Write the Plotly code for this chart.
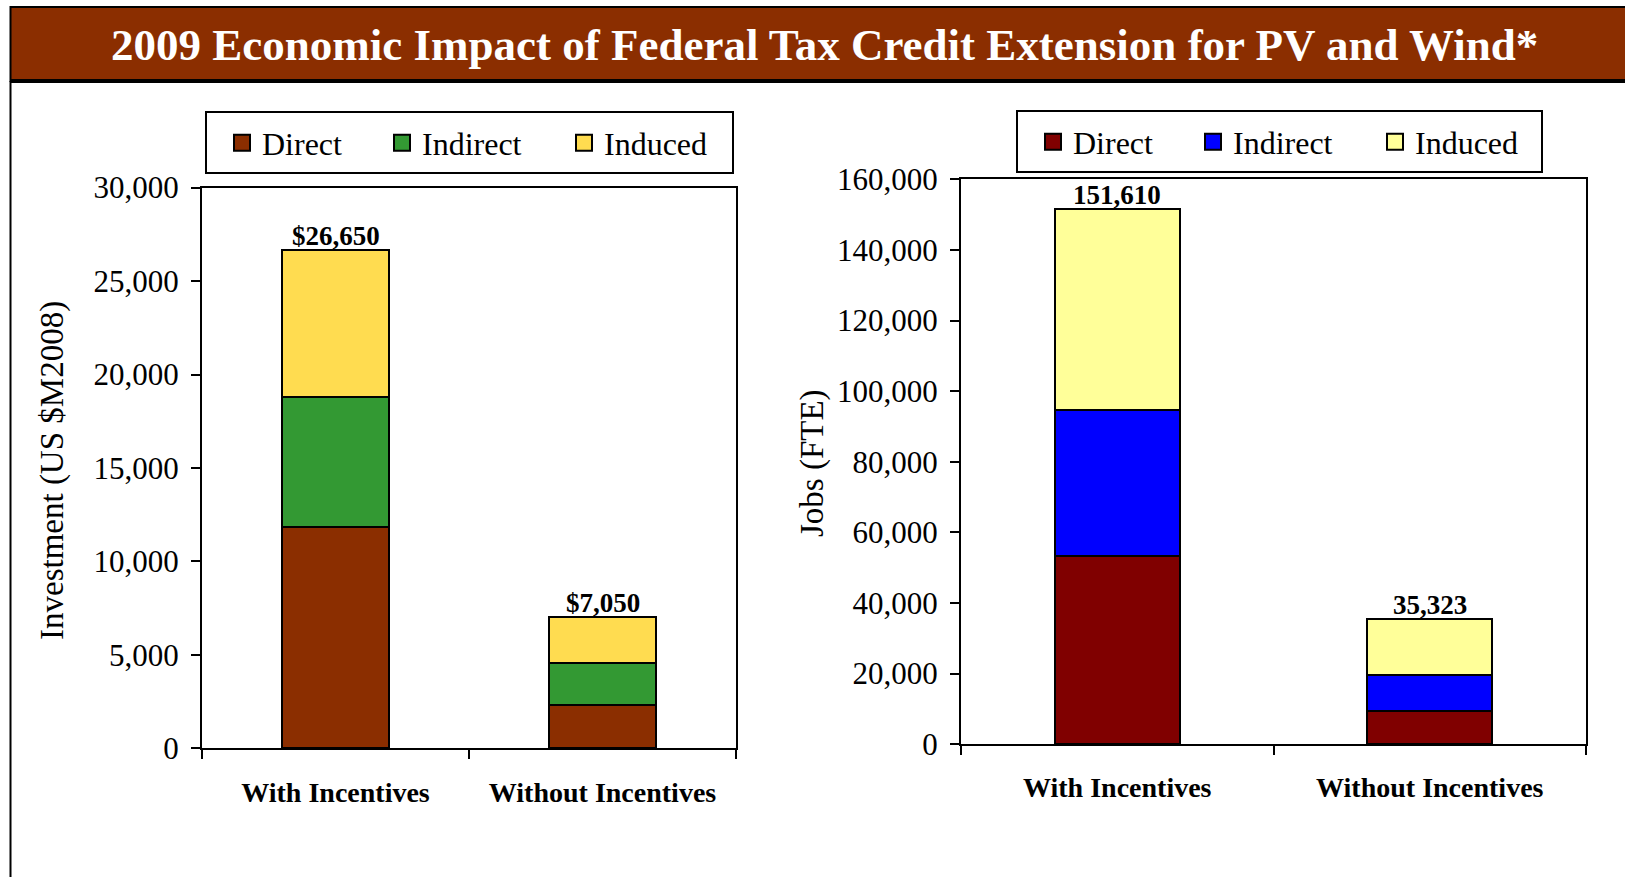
import plotly.graph_objects as go

W, H = 1625, 877

categories = ["With Incentives", "Without Incentives"]
series_names = ["Direct", "Indirect", "Induced"]

# Left chart: Investment (US $M2008)
invest_direct = [11850, 2300]
invest_indirect = [6950, 2250]
invest_induced = [7850, 2500]
invest_colors = ["#8B2E00", "#339933", "#FFDC50"]

# Right chart: Jobs (FTE)
jobs_direct = [53400, 9400]
jobs_indirect = [41250, 10150]
jobs_induced = [56960, 15773]
jobs_colors = ["#800000", "#0000FF", "#FFFF99"]

title_text = "2009 Economic Impact of Federal Tax Credit Extension for PV and Wind*"
left_ytitle = "Investment (US $M2008)"
right_ytitle = "Jobs (FTE)"

FONT = "Liberation Serif"
legend_widths = [115, 137, 125]


def px(x):
    return x / W


def py(y):
    return 1 - y / H


fig = go.Figure()

left_series = [invest_direct, invest_indirect, invest_induced]
right_series = [jobs_direct, jobs_indirect, jobs_induced]

for name, vals, col, lw in zip(series_names, left_series, invest_colors, legend_widths):
    fig.add_trace(go.Bar(x=categories, y=vals, name=name, marker=dict(color=col, line=dict(color="black", width=2)),
                         xaxis="x", yaxis="y", showlegend=False))
    fig.add_trace(go.Scatter(x=[None], y=[None], mode="markers", name=name, legendwidth=lw,
                             marker=dict(symbol="square", size=16, color=col, line=dict(color="black", width=2)),
                             xaxis="x", yaxis="y", legend="legend"))

for name, vals, col, lw in zip(series_names, right_series, jobs_colors, legend_widths):
    fig.add_trace(go.Bar(x=categories, y=vals, name=name, marker=dict(color=col, line=dict(color="black", width=2)),
                         xaxis="x2", yaxis="y2", showlegend=False))
    fig.add_trace(go.Scatter(x=[None], y=[None], mode="markers", name=name, legendwidth=lw,
                             marker=dict(symbol="square", size=16, color=col, line=dict(color="black", width=2)),
                             xaxis="x2", yaxis="y2", legend="legend2"))

left_totals = [sum(v) for v in zip(*left_series)]
right_totals = [sum(v) for v in zip(*right_series)]

annotations = []
for c, t in zip(categories, left_totals):
    annotations.append(dict(x=c, y=t, xref="x", yref="y", text=f"${t:,}", showarrow=False, yanchor="bottom",
                            yshift=-3, font=dict(family=FONT, size=27, color="black", weight="bold")))
for c, t in zip(categories, right_totals):
    annotations.append(dict(x=c, y=t, xref="x2", yref="y2", text=f"{t:,}", showarrow=False, yanchor="bottom",
                            yshift=-3, font=dict(family=FONT, size=27, color="black", weight="bold")))

# Title
annotations.append(dict(x=px(824), y=py(45), xref="paper", yref="paper", text=title_text, showarrow=False,
                        xanchor="center", yanchor="middle",
                        font=dict(family=FONT, size=45, color="white", weight="bold")))
# Axis titles
annotations.append(dict(x=px(52), y=py(471), xref="paper", yref="paper", text=left_ytitle, showarrow=False,
                        textangle=-90, xanchor="center", yanchor="middle",
                        font=dict(family=FONT, size=33, color="black")))
annotations.append(dict(x=px(812), y=py(463), xref="paper", yref="paper", text=right_ytitle, showarrow=False,
                        textangle=-90, xanchor="center", yanchor="middle",
                        font=dict(family=FONT, size=33, color="black")))

shapes = [
    dict(type="rect", xref="paper", yref="paper", x0=px(10.5), x1=px(1640), y0=py(7), y1=py(81),
         fillcolor="#8B2E00", line=dict(color="black", width=2), layer="below"),
    dict(type="line", xref="paper", yref="paper", x0=px(10.5), x1=px(1640), y0=py(81), y1=py(81),
         line=dict(color="black", width=4)),
    dict(type="line", xref="paper", yref="paper", x0=px(10.5), x1=px(10.5), y0=py(81), y1=py(890),
         line=dict(color="black", width=2)),
    # legend frames
    dict(type="rect", xref="paper", yref="paper", x0=px(206), x1=px(733), y0=py(112), y1=py(173),
         fillcolor="rgba(0,0,0,0)", line=dict(color="black", width=2)),
    dict(type="rect", xref="paper", yref="paper", x0=px(1017), x1=px(1542), y0=py(111), y1=py(172),
         fillcolor="rgba(0,0,0,0)", line=dict(color="black", width=2)),
]

axis_common = dict(showline=True, linecolor="black", linewidth=2, mirror=True, showgrid=False, zeroline=False,
                   automargin=False)

fig.update_layout(
    width=W, height=H, autosize=False,
    margin=dict(l=0, r=0, t=0, b=0, pad=0),
    paper_bgcolor="white", plot_bgcolor="white",
    barmode="stack", bargap=0.6,
    font=dict(family=FONT, color="black"),
    xaxis=dict(domain=[px(202), px(736)], anchor="y", type="category", ticks="outside", tickson="boundaries",
               ticklen=9, tickwidth=2, tickcolor="black", ticklabelstandoff=18,
               tickfont=dict(family=FONT, size=28, color="black", weight="bold"), **axis_common),
    yaxis=dict(domain=[py(748.3), py(187.6)], anchor="x", range=[0, 30000], dtick=5000, tickformat=",",
               ticks="outside", ticklen=9, tickwidth=2, tickcolor="black", ticklabelstandoff=6,
               tickfont=dict(family=FONT, size=31, color="black"), **axis_common),
    xaxis2=dict(domain=[px(961), px(1586)], anchor="y2", type="category", ticks="outside", tickson="boundaries",
                ticklen=9, tickwidth=2, tickcolor="black", ticklabelstandoff=17,
                tickfont=dict(family=FONT, size=28, color="black", weight="bold"), **axis_common),
    yaxis2=dict(domain=[py(744.1), py(179.3)], anchor="x2", range=[0, 160000], dtick=20000, tickformat=",",
                ticks="outside", ticklen=9, tickwidth=2, tickcolor="black", ticklabelstandoff=6,
                tickfont=dict(family=FONT, size=31, color="black"), **axis_common),
    legend=dict(x=px(222), y=py(143), xanchor="left", yanchor="middle", orientation="h", traceorder="normal",
                borderwidth=0, bgcolor="rgba(0,0,0,0)",
                font=dict(family=FONT, size=32, color="black")),
    legend2=dict(x=px(1033), y=py(142), xanchor="left", yanchor="middle", orientation="h", traceorder="normal",
                 borderwidth=0, bgcolor="rgba(0,0,0,0)",
                 font=dict(family=FONT, size=32, color="black")),
    annotations=annotations,
    shapes=shapes,
)

fig.write_html("out.html")
